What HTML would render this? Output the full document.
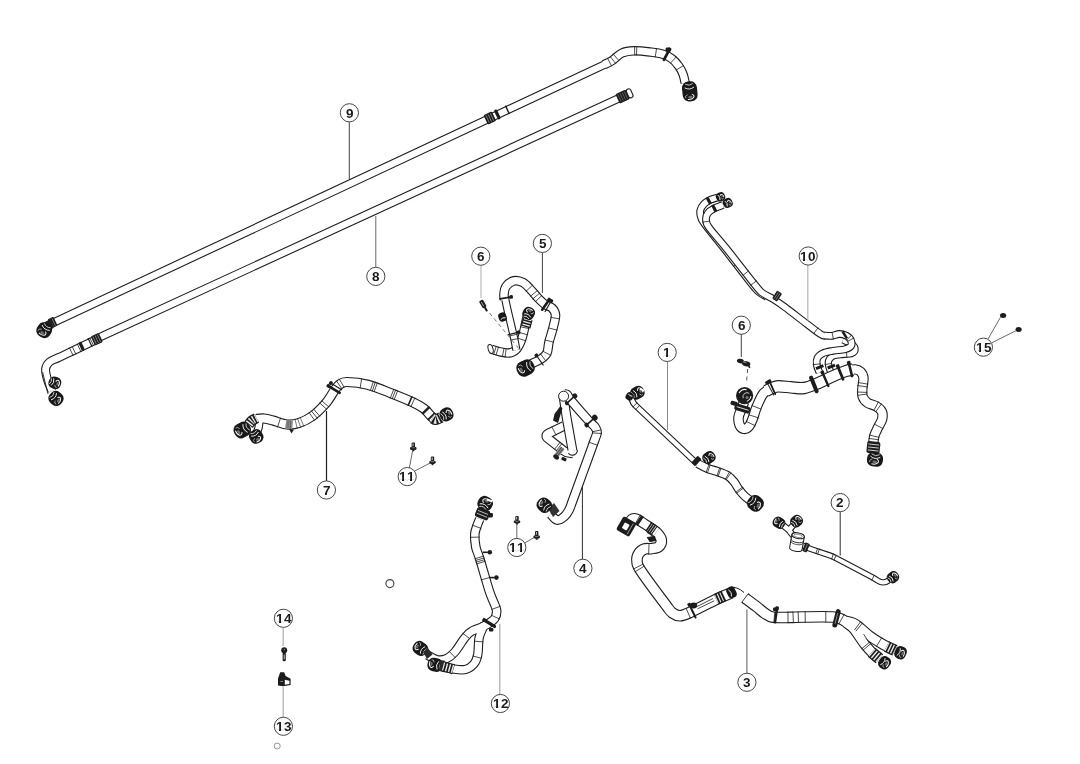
<!DOCTYPE html><html><head><meta charset="utf-8"><title>Hose diagram</title><style>html,body{margin:0;padding:0;background:#fff;font-family:"Liberation Sans",sans-serif}svg{display:block}svg{filter:grayscale(1)}</style></head><body><svg width="1080" height="764" viewBox="0 0 1080 764" font-family="Liberation Sans, sans-serif" font-weight="bold" fill="#1a1a1a"><rect width="1080" height="764" fill="#fff"/><path d="M55 321.8L606 63.8" fill="none" stroke="#1e1e1e" stroke-width="8.6" stroke-linecap="butt" stroke-linejoin="round"/><path d="M604 64.7C605.3 64 609 62.7 612 60.7C615 58.8 618.3 54.6 622 53C625.7 51.4 629.3 51 634 50.8C638.7 50.6 645.2 51.4 650 52C654.8 52.6 659.3 53.1 663 54.2C666.7 55.3 669.3 56.8 672 58.8C674.7 60.8 677.1 63.8 679 66.4C680.9 69 682.2 71.8 683.2 74.6C684.2 77.4 684.9 81.6 685.2 83" fill="none" stroke="#1e1e1e" stroke-width="9.4" stroke-linecap="butt" stroke-linejoin="round"/><path d="M55 321.8L606 63.8" fill="none" stroke="#fff" stroke-width="6.4" stroke-linecap="butt" stroke-linejoin="round"/><path d="M604 64.7C605.3 64 609 62.7 612 60.7C615 58.8 618.3 54.6 622 53C625.7 51.4 629.3 51 634 50.8C638.7 50.6 645.2 51.4 650 52C654.8 52.6 659.3 53.1 663 54.2C666.7 55.3 669.3 56.8 672 58.8C674.7 60.8 677.1 63.8 679 66.4C680.9 69 682.2 71.8 683.2 74.6C684.2 77.4 684.9 81.6 685.2 83" fill="none" stroke="#fff" stroke-width="7.2" stroke-linecap="butt" stroke-linejoin="round"/><path d="M611.7 66.3L607.4 57.9" stroke="#1e1e1e" stroke-width="0.8"/><path d="M615.9 63.7L610.1 56.3" stroke="#1e1e1e" stroke-width="0.8"/><path d="M619.2 60.9L612.9 53.8" stroke="#1e1e1e" stroke-width="0.8"/><path d="M634.7 55.5L634.6 46.1" stroke="#1e1e1e" stroke-width="0.8"/><path d="M636.5 55.5L636.8 46.1" stroke="#1e1e1e" stroke-width="0.8"/><path d="M655.2 57.4L656.6 48.1" stroke="#1e1e1e" stroke-width="0.8"/><path d="M670.2 63.4L676.6 56.5" stroke="#1e1e1e" stroke-width="0.8"/><path d="M675.9 70.2L683.9 65.3" stroke="#1e1e1e" stroke-width="0.8"/><g transform="translate(489.8 118) rotate(-25.1)"><rect x="-4.6" y="-5.2" width="9.2" height="10.4" rx="1.2" fill="#1c1c1c"/><path d="M-2.4 -4V4M0 -4V4M2.4 -4V4" stroke="#999" stroke-width="0.7"/></g><g transform="translate(497.4 114.4) rotate(-25.1)"><rect x="-1.6" y="-5.2" width="3.2" height="10.4" rx="1.4" fill="#1c1c1c"/></g><g transform="translate(507.4 109.8) rotate(-25.1)"><path d="M0 -4.6V4.6" stroke="#1c1c1c" stroke-width="1.4"/></g><g transform="translate(666.5 55) rotate(28)"><path d="M0 -5.5V5.5" stroke="#1c1c1c" stroke-width="2.8" stroke-linecap="round"/><rect x="-1.8" y="-8" width="3.6" height="3.4" rx="1" fill="#1c1c1c"/></g><rect x="665.6" y="47.4" width="5" height="4.6" rx="1.4" fill="#1c1c1c"/><g transform="translate(689.8 91.4) rotate(84)"><rect x="-10" y="-7.5" width="20" height="15" rx="6.3" fill="#181818"/><path d="M-4 -4.7Q-0.9 0 -4 4.7" fill="none" stroke="#fff" stroke-width="0.85"/><path d="M-7.6 -3.8Q-4.9 0 -7.6 3.8" fill="none" stroke="#e4e4e4" stroke-width="0.8"/><path d="M2.9 -1.7A2.8 5 0 0 1 7.8 2.8" fill="none" stroke="#f4f4f4" stroke-width="1.0"/><path d="M6.4 4.7A2.8 5 0 0 1 3.1 2.5" fill="none" stroke="#cfcfcf" stroke-width="0.7"/><ellipse cx="5.7" cy="0" rx="1.3" ry="2.2" fill="#6e6e6e"/></g><g transform="translate(52.4 322.6) rotate(-25.1)"><rect x="-3" y="-5" width="6.4" height="10" rx="1" fill="#1c1c1c"/><path d="M-1 -4V4M1.4 -4V4" stroke="#999" stroke-width="0.7"/></g><path d="M50.5 319L44 322.5L41 329L48.5 333L53.5 327.5Z" fill="#1c1c1c"/><g transform="translate(44.2 330.2) rotate(125)"><rect x="-7.5" y="-7.5" width="15" height="15" rx="6.3" fill="#181818"/><path d="M-3 -4.7Q0.1 0 -3 4.7" fill="none" stroke="#fff" stroke-width="0.85"/><path d="M-5.7 -3.8Q-3 0 -5.7 3.8" fill="none" stroke="#e4e4e4" stroke-width="0.8"/><path d="M0.4 -1.7A2.8 5 0 0 1 5.3 2.8" fill="none" stroke="#f4f4f4" stroke-width="1.0"/><path d="M3.9 4.7A2.8 5 0 0 1 0.6 2.5" fill="none" stroke="#cfcfcf" stroke-width="0.7"/><ellipse cx="3.2" cy="0" rx="1.3" ry="2.2" fill="#6e6e6e"/></g><path d="M100 337.2L629 93.6" fill="none" stroke="#1e1e1e" stroke-width="8.6" stroke-linecap="butt" stroke-linejoin="round"/><path d="M100 337.9C96 339.8 82.9 346.1 76 349.4C69.1 352.7 62.9 355.5 58.5 357.6C54.1 359.7 51.6 360.1 49.5 362C47.4 363.9 45.9 366 45.6 369C45.3 372 46.5 376.3 47.6 380C48.7 383.7 51.3 389.2 52 391" fill="none" stroke="#1e1e1e" stroke-width="9" stroke-linecap="butt" stroke-linejoin="round"/><path d="M100 337.2L629 93.6" fill="none" stroke="#fff" stroke-width="6.4" stroke-linecap="butt" stroke-linejoin="round"/><path d="M100 337.9C96 339.8 82.9 346.1 76 349.4C69.1 352.7 62.9 355.5 58.5 357.6C54.1 359.7 51.6 360.1 49.5 362C47.4 363.9 45.9 366 45.6 369C45.3 372 46.5 376.3 47.6 380C48.7 383.7 51.3 389.2 52 391" fill="none" stroke="#fff" stroke-width="6.8" stroke-linecap="butt" stroke-linejoin="round"/><path d="M89.8 337.8L93.7 345.9" stroke="#1e1e1e" stroke-width="0.8"/><path d="M77.2 343.8L81.1 352" stroke="#1e1e1e" stroke-width="0.8"/><path d="M72.1 346.3L75.9 354.4" stroke="#1e1e1e" stroke-width="0.8"/><path d="M69.3 347.6L73.2 355.7" stroke="#1e1e1e" stroke-width="0.8"/><path d="M42.6 372L48 394" stroke="#1e1e1e" stroke-width="0.9"/><g transform="translate(96.8 339.2) rotate(-24.7)"><rect x="-4.4" y="-5" width="8.8" height="10" rx="1.2" fill="#1c1c1c"/><path d="M-2.4 -4V4M0 -4V4M2.4 -4V4" stroke="#999" stroke-width="0.7"/></g><g transform="translate(90 342.4) rotate(-24.7)"><path d="M0 -4.8V4.8" stroke="#1c1c1c" stroke-width="1.2"/></g><g transform="translate(81.6 346.3) rotate(-24.7)"><rect x="-1.6" y="-4.6" width="3.2" height="9.2" rx="1.4" fill="#1c1c1c"/></g><g transform="translate(622.6 96.6) rotate(-24.7)"><rect x="-5.6" y="-5.2" width="11.2" height="10.4" rx="1.2" fill="#1c1c1c"/><path d="M-3.4 -4V4M-1 -4V4M1.4 -4V4M3.6 -4V4" stroke="#6a6a6a" stroke-width="0.7"/></g><g transform="translate(629.6 93.4) rotate(-24.7)"><rect x="-2.2" y="-4.6" width="4.6" height="9.2" rx="2" fill="#fff" stroke="#1c1c1c" stroke-width="1.1"/></g><g transform="translate(54.8 382.8) rotate(20)"><rect x="-6.2" y="-6" width="12.5" height="12" rx="5" fill="#181818"/><path d="M-2.5 -3.7Q0 0 -2.5 3.7" fill="none" stroke="#fff" stroke-width="0.85"/><path d="M-4.8 -3Q-2.6 0 -4.8 3" fill="none" stroke="#e4e4e4" stroke-width="0.8"/><path d="M0.5 -1.4A2.2 4 0 0 1 4.4 2.3" fill="none" stroke="#f4f4f4" stroke-width="1.0"/><path d="M3.3 3.7A2.2 4 0 0 1 0.7 2" fill="none" stroke="#cfcfcf" stroke-width="0.7"/><ellipse cx="2.8" cy="0" rx="1" ry="1.8" fill="#6e6e6e"/></g><g transform="translate(56 398.4) rotate(40)"><rect x="-7.2" y="-7" width="14.5" height="14" rx="5.9" fill="#181818"/><path d="M-2.9 -4.3Q0 0 -2.9 4.3" fill="none" stroke="#fff" stroke-width="0.85"/><path d="M-5.5 -3.5Q-3 0 -5.5 3.5" fill="none" stroke="#e4e4e4" stroke-width="0.8"/><path d="M0.6 -1.6A2.6 4.6 0 0 1 5.1 2.6" fill="none" stroke="#f4f4f4" stroke-width="1.0"/><path d="M3.9 4.3A2.6 4.6 0 0 1 0.8 2.3" fill="none" stroke="#cfcfcf" stroke-width="0.7"/><ellipse cx="3.2" cy="0" rx="1.2" ry="2.1" fill="#6e6e6e"/></g><path d="M256 419C257.3 418.9 261.2 418.2 264 418.5C266.8 418.8 269.2 419.5 273 420.5C276.8 421.5 282.7 424.1 287 424.5C291.3 424.9 294.8 424.4 299 423C303.2 421.6 308 419.3 312.5 416C317 412.7 322.2 407.4 326 403C329.8 398.6 332.7 392.6 335 389.5C337.3 386.4 338 385.4 340 384.2C342 382.9 342.3 381.9 347 382C351.7 382.1 360.7 382.9 368 384.8C375.3 386.7 383.3 390.2 391 393.2C398.7 396.2 408.5 400.2 414 402.8C419.5 405.4 421.3 406.6 424 408.6C426.7 410.6 428.4 413.3 430 415C431.6 416.7 433 418 433.6 418.6" fill="none" stroke="#1e1e1e" stroke-width="10.2" stroke-linecap="butt" stroke-linejoin="round"/><path d="M259.5 421C259.3 422.2 259 426 258.5 428C258 430 256.8 432.2 256.5 433" fill="none" stroke="#1e1e1e" stroke-width="8.4" stroke-linecap="butt" stroke-linejoin="round"/><path d="M256 419C257.3 418.9 261.2 418.2 264 418.5C266.8 418.8 269.2 419.5 273 420.5C276.8 421.5 282.7 424.1 287 424.5C291.3 424.9 294.8 424.4 299 423C303.2 421.6 308 419.3 312.5 416C317 412.7 322.2 407.4 326 403C329.8 398.6 332.7 392.6 335 389.5C337.3 386.4 338 385.4 340 384.2C342 382.9 342.3 381.9 347 382C351.7 382.1 360.7 382.9 368 384.8C375.3 386.7 383.3 390.2 391 393.2C398.7 396.2 408.5 400.2 414 402.8C419.5 405.4 421.3 406.6 424 408.6C426.7 410.6 428.4 413.3 430 415C431.6 416.7 433 418 433.6 418.6" fill="none" stroke="#fff" stroke-width="8" stroke-linecap="butt" stroke-linejoin="round"/><path d="M259.5 421C259.3 422.2 259 426 258.5 428C258 430 256.8 432.2 256.5 433" fill="none" stroke="#fff" stroke-width="6.2" stroke-linecap="butt" stroke-linejoin="round"/><path d="M277.4 427.3L280.7 417.6" stroke="#1e1e1e" stroke-width="0.8"/><path d="M297.4 428.8L294.9 418.9" stroke="#1e1e1e" stroke-width="0.6"/><path d="M300.8 427.8L297.4 418.1" stroke="#1e1e1e" stroke-width="0.6"/><path d="M303.9 426.6L300.1 417.2" stroke="#1e1e1e" stroke-width="0.6"/><path d="M314.8 420.6L308.9 412.3" stroke="#1e1e1e" stroke-width="0.8"/><path d="M317.5 418.5L311.1 410.6" stroke="#1e1e1e" stroke-width="0.8"/><path d="M320 416.4L313.3 408.8" stroke="#1e1e1e" stroke-width="0.8"/><path d="M327 409.6L319.5 402.7" stroke="#1e1e1e" stroke-width="0.8"/><path d="M329.2 407.2L321.4 400.5" stroke="#1e1e1e" stroke-width="0.8"/><path d="M342.1 389L336.2 380.6" stroke="#1e1e1e" stroke-width="0.8"/><path d="M344.3 387.4L339 378.7" stroke="#1e1e1e" stroke-width="0.8"/><path d="M360.1 388.4L361.7 378.3" stroke="#1e1e1e" stroke-width="0.8"/><path d="M370.3 390.8L373.5 381.1" stroke="#1e1e1e" stroke-width="0.8"/><path d="M372.2 391.4L375.5 381.7" stroke="#1e1e1e" stroke-width="0.8"/><path d="M374 392L377.5 382.4" stroke="#1e1e1e" stroke-width="0.8"/><path d="M390.2 398.4L393.9 388.9" stroke="#1e1e1e" stroke-width="0.8"/><path d="M392.1 399.1L395.8 389.6" stroke="#1e1e1e" stroke-width="0.8"/><path d="M394 399.9L397.8 390.4" stroke="#1e1e1e" stroke-width="0.8"/><path d="M408 405.7L412.1 396.4" stroke="#1e1e1e" stroke-width="1.6"/><path d="M410.8 406.9L415 397.7" stroke="#1e1e1e" stroke-width="0.8"/><path d="M422.3 413.9L429.6 406.8" stroke="#1e1e1e" stroke-width="2.4"/><path d="M427.8 420L435 412.8" stroke="#1e1e1e" stroke-width="1.8"/><path d="M286.4 419.7L293 420.8L292.2 429.4L285 428.2Z" fill="#8c8c8c"/><path d="M288 420V428.6M290.4 420.4V429" stroke="#444" stroke-width="0.6"/><path d="M289 429L291.5 433.5L294 429.5Z" fill="#1c1c1c"/><path d="M432.4 418C433 418.3 434.6 419.7 436 419.6C437.4 419.5 440.2 417.8 441 417.4" fill="none" stroke="#1c1c1c" stroke-width="11"/><path d="M432.4 418C433 418.3 434.6 419.7 436 419.6C437.4 419.5 440.2 417.8 441 417.4" fill="none" stroke="#e8e8e8" stroke-width="8.6" stroke-dasharray="1.3 1.5"/><g transform="translate(446.6 414.4) rotate(-28)"><rect x="-6.8" y="-6.8" width="13.5" height="13.5" rx="5.7" fill="#181818"/><path d="M-2.7 -4.2Q0.1 0 -2.7 4.2" fill="none" stroke="#fff" stroke-width="0.85"/><path d="M-5.1 -3.4Q-2.7 0 -5.1 3.4" fill="none" stroke="#e4e4e4" stroke-width="0.8"/><path d="M0.3 -1.5A2.5 4.5 0 0 1 4.7 2.6" fill="none" stroke="#f4f4f4" stroke-width="1.0"/><path d="M3.5 4.2A2.5 4.5 0 0 1 0.5 2.2" fill="none" stroke="#cfcfcf" stroke-width="0.7"/><ellipse cx="2.9" cy="0" rx="1.1" ry="2" fill="#6e6e6e"/></g><g transform="translate(334.4 389.6) rotate(-58)"><path d="M0 -6.2V6.2" stroke="#1c1c1c" stroke-width="2.6" stroke-linecap="round"/><rect x="-1.8" y="-8.8" width="3.6" height="3.4" rx="1" fill="#1c1c1c"/></g><g transform="translate(336.6 386.6) rotate(-58)"><path d="M0 -6V6" stroke="#1c1c1c" stroke-width="1.2" stroke-linecap="round"/><rect x="-1.8" y="-8.5" width="3.6" height="3.4" rx="1" fill="#1c1c1c"/></g><path d="M256.5 418C255.8 418.4 253.3 419.5 252 420.6C250.7 421.7 249.2 423.9 248.6 424.6" fill="none" stroke="#1c1c1c" stroke-width="10.6"/><path d="M256.5 418C255.8 418.4 253.3 419.5 252 420.6C250.7 421.7 249.2 423.9 248.6 424.6" fill="none" stroke="#e8e8e8" stroke-width="8.2" stroke-dasharray="1.3 1.4"/><g transform="translate(242.3 430) rotate(150)"><rect x="-8.5" y="-7.5" width="17" height="15" rx="6.3" fill="#181818"/><path d="M-3.4 -4.7Q-0.3 0 -3.4 4.7" fill="none" stroke="#fff" stroke-width="0.85"/><path d="M-6.5 -3.8Q-3.8 0 -6.5 3.8" fill="none" stroke="#e4e4e4" stroke-width="0.8"/><path d="M1.4 -1.7A2.8 5 0 0 1 6.3 2.8" fill="none" stroke="#f4f4f4" stroke-width="1.0"/><path d="M4.9 4.7A2.8 5 0 0 1 1.6 2.5" fill="none" stroke="#cfcfcf" stroke-width="0.7"/><ellipse cx="4.2" cy="0" rx="1.3" ry="2.2" fill="#6e6e6e"/></g><g transform="translate(256.2 436.5) rotate(60)"><rect x="-7" y="-6.8" width="14" height="13.5" rx="5.7" fill="#181818"/><path d="M-2.8 -4.2Q0 0 -2.8 4.2" fill="none" stroke="#fff" stroke-width="0.85"/><path d="M-5.3 -3.4Q-2.9 0 -5.3 3.4" fill="none" stroke="#e4e4e4" stroke-width="0.8"/><path d="M0.6 -1.5A2.5 4.5 0 0 1 5 2.6" fill="none" stroke="#f4f4f4" stroke-width="1.0"/><path d="M3.8 4.2A2.5 4.5 0 0 1 0.8 2.2" fill="none" stroke="#cfcfcf" stroke-width="0.7"/><ellipse cx="3.1" cy="0" rx="1.1" ry="2" fill="#6e6e6e"/></g><path d="M491.5 349.2C492.9 349.6 497.1 351.2 500 351.8C502.9 352.4 506.3 353.3 509 353C511.7 352.7 514.1 351.6 516 349.8C517.9 348.1 519.3 345.1 520.5 342.5C521.7 339.9 522.4 336.9 523.2 334C524 331.1 524.6 327.8 525.2 325C525.8 322.2 526.7 318.3 527 317" fill="none" stroke="#1e1e1e" stroke-width="9.4" stroke-linecap="butt" stroke-linejoin="round"/><path d="M491.5 349.2C492.9 349.6 497.1 351.2 500 351.8C502.9 352.4 506.3 353.3 509 353C511.7 352.7 514.1 351.6 516 349.8C517.9 348.1 519.3 345.1 520.5 342.5C521.7 339.9 522.4 336.9 523.2 334C524 331.1 524.6 327.8 525.2 325C525.8 322.2 526.7 318.3 527 317" fill="none" stroke="#fff" stroke-width="7.2" stroke-linecap="butt" stroke-linejoin="round"/><path d="M493.5 354.8L496.4 345.9" stroke="#1e1e1e" stroke-width="0.8"/><path d="M495.9 355.6L498.6 346.6" stroke="#1e1e1e" stroke-width="0.8"/><path d="M502.3 357.1L504.1 347.9" stroke="#1e1e1e" stroke-width="0.8"/><path d="M505 357.6L506.2 348.2" stroke="#1e1e1e" stroke-width="0.8"/><path d="M526.1 340.9L517.2 338" stroke="#1e1e1e" stroke-width="0.8"/><path d="M527.8 334.8L518.8 332.4" stroke="#1e1e1e" stroke-width="0.8"/><path d="M529.2 328.6L520 326.7" stroke="#1e1e1e" stroke-width="0.8"/><ellipse cx="490.6" cy="349" rx="2.4" ry="4.6" transform="rotate(-16 490.6 349)" fill="#fff" stroke="#1e1e1e" stroke-width="1"/><path d="M504.6 300C504.5 299.1 503.8 296.8 504 294.5C504.2 292.2 504.3 288.8 506 286.5C507.7 284.2 511.2 281.4 514 280.8C516.8 280.2 520.2 281.1 523 282.6C525.8 284.1 528.5 287.4 531 290C533.5 292.6 535.7 295.6 538 298C540.3 300.4 542.7 302.8 545 304.5C547.3 306.2 550.2 306.2 552 308C553.8 309.8 555.3 311.7 555.5 315C555.7 318.3 554.1 323.5 553 328C551.9 332.5 550 337.8 549 342C548 346.2 548.3 350.2 547 353C545.7 355.8 543.7 357.2 541 359C538.3 360.8 532.7 363.2 531 364" fill="none" stroke="#1e1e1e" stroke-width="9.6" stroke-linecap="butt" stroke-linejoin="round"/><path d="M504.8 297L506.7 306.1 Q508 312 509.4 317.8L512.8 332.2 Q514.2 338 515.3 343.9L516.4 350" fill="none" stroke="#1e1e1e" stroke-width="8.2" stroke-linecap="butt" stroke-linejoin="round"/><path d="M504.6 300C504.5 299.1 503.8 296.8 504 294.5C504.2 292.2 504.3 288.8 506 286.5C507.7 284.2 511.2 281.4 514 280.8C516.8 280.2 520.2 281.1 523 282.6C525.8 284.1 528.5 287.4 531 290C533.5 292.6 535.7 295.6 538 298C540.3 300.4 542.7 302.8 545 304.5C547.3 306.2 550.2 306.2 552 308C553.8 309.8 555.3 311.7 555.5 315C555.7 318.3 554.1 323.5 553 328C551.9 332.5 550 337.8 549 342C548 346.2 548.3 350.2 547 353C545.7 355.8 543.7 357.2 541 359C538.3 360.8 532.7 363.2 531 364" fill="none" stroke="#fff" stroke-width="7.4" stroke-linecap="butt" stroke-linejoin="round"/><path d="M504.8 297L506.7 306.1 Q508 312 509.4 317.8L512.8 332.2 Q514.2 338 515.3 343.9L516.4 350" fill="none" stroke="#fff" stroke-width="6" stroke-linecap="butt" stroke-linejoin="round"/><path d="M525.8 291.5L532.8 284.9" stroke="#1e1e1e" stroke-width="0.8"/><path d="M530.3 296.4L537.7 290.3" stroke="#1e1e1e" stroke-width="0.8"/><path d="M532.6 299.1L539.9 292.9" stroke="#1e1e1e" stroke-width="0.8"/><path d="M535.1 301.9L542 295.3" stroke="#1e1e1e" stroke-width="0.8"/><path d="M543.6 309.3L548.1 300.8" stroke="#1e1e1e" stroke-width="0.8"/><path d="M550.5 317.4L560 318.9" stroke="#1e1e1e" stroke-width="0.8"/><path d="M548.1 327.8L557.4 330.2" stroke="#1e1e1e" stroke-width="0.8"/><path d="M544.6 339.9L553.9 342.2" stroke="#1e1e1e" stroke-width="0.8"/><path d="M542.6 351.1L551.1 355.5" stroke="#1e1e1e" stroke-width="0.8"/><path d="M540.3 353.6L546.1 361.3" stroke="#1e1e1e" stroke-width="0.8"/><path d="M509.5 336L517.5 334.1" stroke="#1e1e1e" stroke-width="0.8"/><path d="M510.4 340.1L518.5 338.6" stroke="#1e1e1e" stroke-width="0.8"/><g transform="translate(525.5 368) rotate(155)"><rect x="-9" y="-7.8" width="18" height="15.5" rx="6.5" fill="#181818"/><path d="M-3.6 -4.8Q-0.3 0 -3.6 4.8" fill="none" stroke="#fff" stroke-width="0.85"/><path d="M-6.8 -3.9Q-4 0 -6.8 3.9" fill="none" stroke="#e4e4e4" stroke-width="0.8"/><path d="M1.7 -1.7A2.9 5.1 0 0 1 6.7 2.9" fill="none" stroke="#f4f4f4" stroke-width="1.0"/><path d="M5.3 4.8A2.9 5.1 0 0 1 1.9 2.6" fill="none" stroke="#cfcfcf" stroke-width="0.7"/><ellipse cx="4.6" cy="0" rx="1.3" ry="2.3" fill="#6e6e6e"/></g><path d="M527.8 319C527.4 320.3 526 325.7 525.6 327" fill="none" stroke="#1c1c1c" stroke-width="10"/><path d="M527.8 319C527.4 320.3 526 325.7 525.6 327" fill="none" stroke="#e8e8e8" stroke-width="7.6" stroke-dasharray="1.3 1.5"/><g transform="translate(528.6 313.4) rotate(-62)"><rect x="-6.2" y="-6" width="12.5" height="12" rx="5" fill="#181818"/><path d="M-2.5 -3.7Q0 0 -2.5 3.7" fill="none" stroke="#fff" stroke-width="0.85"/><path d="M-4.8 -3Q-2.6 0 -4.8 3" fill="none" stroke="#e4e4e4" stroke-width="0.8"/><path d="M0.5 -1.4A2.2 4 0 0 1 4.4 2.3" fill="none" stroke="#f4f4f4" stroke-width="1.0"/><path d="M3.3 3.7A2.2 4 0 0 1 0.7 2" fill="none" stroke="#cfcfcf" stroke-width="0.7"/><ellipse cx="2.8" cy="0" rx="1" ry="1.8" fill="#6e6e6e"/></g><g transform="translate(502.5 317) rotate(-110)"><rect x="-4.5" y="-4" width="9" height="8" rx="3.4" fill="#181818"/><path d="M-1.8 -2.5Q-0.1 0 -1.8 2.5" fill="none" stroke="#fff" stroke-width="0.85"/></g><g transform="translate(545.5 305) rotate(35)"><path d="M0 -5.8V5.8" stroke="#1c1c1c" stroke-width="2.6" stroke-linecap="round"/><rect x="-1.8" y="-8.2" width="3.6" height="3.4" rx="1" fill="#1c1c1c"/></g><g transform="translate(548 306.5) rotate(30)"><path d="M0 -5.8V5.8" stroke="#1c1c1c" stroke-width="1.2" stroke-linecap="round"/><rect x="-1.8" y="-8.2" width="3.6" height="3.4" rx="1" fill="#1c1c1c"/></g><g transform="translate(505.2 298) rotate(80)"><path d="M0 -5.3V5.3" stroke="#1c1c1c" stroke-width="1.8" stroke-linecap="round"/><rect x="-1.8" y="-7.8" width="3.6" height="3.4" rx="1" fill="#1c1c1c"/></g><g transform="translate(513.2 333.5) rotate(77)"><path d="M0 -4.8V4.8" stroke="#1c1c1c" stroke-width="1.4" stroke-linecap="round"/><rect x="-1.8" y="-7.3" width="3.6" height="3.4" rx="1" fill="#1c1c1c"/></g><g transform="translate(540 360.5) rotate(-35)"><path d="M0 -5.5V5.5" stroke="#1c1c1c" stroke-width="1.2" stroke-linecap="round"/><rect x="-1.8" y="-8" width="3.6" height="3.4" rx="1" fill="#1c1c1c"/></g><g transform="translate(483.6 305.2) rotate(-30)"><rect x="-2.2" y="-5.5" width="4.4" height="8" rx="1" fill="#1c1c1c"/><path d="M-0.4 -4V1" stroke="#bbb" stroke-width="0.8"/><rect x="-1" y="2" width="2" height="5" fill="#1c1c1c"/></g><path d="M489.5 313L520 350" stroke="#555" stroke-width="0.8" stroke-dasharray="4 3"/><path d="M564 425.8L548.5 433.5 Q544.4 435.6 548 438.4L563.2 450.4 Q566 452.6 569.5 453L573 453.4" fill="none" stroke="#1e1e1e" stroke-width="9.8" stroke-linecap="butt" stroke-linejoin="round"/><path d="M564 425.8L548.5 433.5 Q544.4 435.6 548 438.4L563.2 450.4 Q566 452.6 569.5 453L573 453.4" fill="none" stroke="#fff" stroke-width="7.6" stroke-linecap="butt" stroke-linejoin="round"/><path d="M551.7 426.5L556.1 435.2" stroke="#1e1e1e" stroke-width="0.8"/><path d="M554.3 449.6L560.4 441.9" stroke="#1e1e1e" stroke-width="0.8"/><path d="M556.1 451L562.1 443.3" stroke="#1e1e1e" stroke-width="0.8"/><path d="M563.6 397L566.1 414.1 Q567 420 568.1 425.9L572.6 451" fill="none" stroke="#1e1e1e" stroke-width="9.8" stroke-linecap="butt" stroke-linejoin="round"/><path d="M563.6 397L566.1 414.1 Q567 420 568.1 425.9L572.6 451" fill="none" stroke="#fff" stroke-width="7.6" stroke-linecap="butt" stroke-linejoin="round"/><path d="M567.9 451.6A4.9 5.4 0 0 0 577.4 450" fill="#fff" stroke="#1e1e1e" stroke-width="1.1"/><path d="M566.4 452.4L569.5 451.3" stroke="#fff" stroke-width="2.4"/><path d="M564 394.2C564.5 394.3 565.8 393.6 567 394.6C568.2 395.7 567.3 396.1 571 400.5C574.7 404.9 585 416.6 589 421C593 425.4 593.7 425.1 595 427C596.3 428.9 597.1 430.3 597 432.5C596.9 434.7 596.9 433.6 594.6 440C592.4 446.4 587.2 460.5 583.5 470.7C579.8 480.9 574.9 494.4 572.5 501C570.1 507.6 570.3 507.4 569 510C567.7 512.5 566.5 514.6 564.5 516.3C562.5 518 559.3 520.4 557 520C554.7 519.6 551.6 515 550.5 514" fill="none" stroke="#1e1e1e" stroke-width="9.8" stroke-linecap="butt" stroke-linejoin="round"/><path d="M564 394.2C564.5 394.3 565.8 393.6 567 394.6C568.2 395.7 567.3 396.1 571 400.5C574.7 404.9 585 416.6 589 421C593 425.4 593.7 425.1 595 427C596.3 428.9 597.1 430.3 597 432.5C596.9 434.7 596.9 433.6 594.6 440C592.4 446.4 587.2 460.5 583.5 470.7C579.8 480.9 574.9 494.4 572.5 501C570.1 507.6 570.3 507.4 569 510C567.7 512.5 566.5 514.6 564.5 516.3C562.5 518 559.3 520.4 557 520C554.7 519.6 551.6 515 550.5 514" fill="none" stroke="#fff" stroke-width="7.6" stroke-linecap="butt" stroke-linejoin="round"/><path d="M592.1 431.8L601.7 429.8" stroke="#1e1e1e" stroke-width="0.8"/><path d="M592.1 432.9L601.9 433.5" stroke="#1e1e1e" stroke-width="0.8"/><path d="M588.7 442.1L597.9 445.4" stroke="#1e1e1e" stroke-width="0.8"/><circle cx="563.6" cy="396.2" r="5" fill="#fff" stroke="#1e1e1e" stroke-width="1"/><path d="M548 508.5L554 503L559.5 511L553 517Z" fill="#333"/><g transform="translate(544.3 505.2) rotate(222)"><rect x="-7.5" y="-7" width="15" height="14" rx="5.9" fill="#181818"/><path d="M-3 -4.3Q-0.1 0 -3 4.3" fill="none" stroke="#fff" stroke-width="0.85"/><path d="M-5.7 -3.5Q-3.2 0 -5.7 3.5" fill="none" stroke="#e4e4e4" stroke-width="0.8"/><path d="M0.8 -1.6A2.6 4.6 0 0 1 5.4 2.6" fill="none" stroke="#f4f4f4" stroke-width="1.0"/><path d="M4.2 4.3A2.6 4.6 0 0 1 1 2.3" fill="none" stroke="#cfcfcf" stroke-width="0.7"/><ellipse cx="3.5" cy="0" rx="1.2" ry="2.1" fill="#6e6e6e"/></g><g transform="translate(570.8 399.6) rotate(48)"><path d="M0 -5.2V5.2" stroke="#1c1c1c" stroke-width="1.5"/><ellipse cx="0" cy="-5.6" rx="2.6" ry="2.3" fill="#1c1c1c"/><ellipse cx="0" cy="5.4" rx="2.1" ry="1.8" fill="#1c1c1c"/></g><g transform="translate(590.6 421.4) rotate(48)"><path d="M0 -5.2V5.2" stroke="#1c1c1c" stroke-width="1.5"/><ellipse cx="0" cy="-5.6" rx="3" ry="2.7" fill="#1c1c1c"/><ellipse cx="0" cy="5.4" rx="2.4" ry="2.1" fill="#1c1c1c"/></g><g transform="translate(559.6 451.6) rotate(38)"><rect x="-2.4" y="-4.8" width="4.8" height="9.6" fill="#8a8a8a"/><path d="M-1 -4.8V4.8M1 -4.8V4.8" stroke="#333" stroke-width="0.7"/><ellipse cx="0.6" cy="6.4" rx="3.2" ry="2.2" fill="#1c1c1c"/></g><path d="M560 406.5L562.5 408L558 423L553 420.5L554.5 414Z" fill="#1c1c1c"/><rect x="561.5" y="457.6" width="5" height="3.2" rx="1" fill="#1c1c1c" transform="rotate(25 564 459)"/><path d="M479.8 519C479.4 520 478.1 522.5 477.3 525C476.5 527.5 475.1 530.3 474.8 534C474.6 537.7 475 542.8 475.8 547C476.6 551.2 477.6 551.7 479.8 559C482.1 566.3 486.8 583.3 489.3 591C491.8 598.7 493.7 601.6 494.9 605C496.1 608.4 496.7 609.2 496.7 611.5C496.7 613.8 496 616.5 494.7 618.5C493.4 620.5 490.9 621.9 488.8 623.3C486.7 624.7 483.4 626.4 482.3 627" fill="none" stroke="#1e1e1e" stroke-width="9.6" stroke-linecap="butt" stroke-linejoin="round"/><path d="M485.3 626C483 626.9 474.8 629.4 471.3 631.5C467.8 633.6 467.1 635.1 464.3 638.5C461.6 641.9 457.7 648.7 454.8 652C451.9 655.3 449.7 657.2 446.8 658.5C443.9 659.8 440.6 660.4 437.3 659.8C434.1 659.2 429 655.8 427.3 655" fill="none" stroke="#1e1e1e" stroke-width="9.4" stroke-linecap="butt" stroke-linejoin="round"/><path d="M482.8 628C482.2 629.7 480 633.5 479.1 638C478.2 642.5 478.6 650.7 477.7 655C476.8 659.3 476 661.6 473.9 664C471.8 666.4 468.7 668.7 465.3 669.5C461.9 670.3 457.1 669.5 453.3 669C449.5 668.5 444.1 666.9 442.3 666.5" fill="none" stroke="#1e1e1e" stroke-width="9.4" stroke-linecap="butt" stroke-linejoin="round"/><path d="M479.8 519C479.4 520 478.1 522.5 477.3 525C476.5 527.5 475.1 530.3 474.8 534C474.6 537.7 475 542.8 475.8 547C476.6 551.2 477.6 551.7 479.8 559C482.1 566.3 486.8 583.3 489.3 591C491.8 598.7 493.7 601.6 494.9 605C496.1 608.4 496.7 609.2 496.7 611.5C496.7 613.8 496 616.5 494.7 618.5C493.4 620.5 490.9 621.9 488.8 623.3C486.7 624.7 483.4 626.4 482.3 627" fill="none" stroke="#fff" stroke-width="7.4" stroke-linecap="butt" stroke-linejoin="round"/><path d="M485.3 626C483 626.9 474.8 629.4 471.3 631.5C467.8 633.6 467.1 635.1 464.3 638.5C461.6 641.9 457.7 648.7 454.8 652C451.9 655.3 449.7 657.2 446.8 658.5C443.9 659.8 440.6 660.4 437.3 659.8C434.1 659.2 429 655.8 427.3 655" fill="none" stroke="#fff" stroke-width="7.2" stroke-linecap="butt" stroke-linejoin="round"/><path d="M482.8 628C482.2 629.7 480 633.5 479.1 638C478.2 642.5 478.6 650.7 477.7 655C476.8 659.3 476 661.6 473.9 664C471.8 666.4 468.7 668.7 465.3 669.5C461.9 670.3 457.1 669.5 453.3 669C449.5 668.5 444.1 666.9 442.3 666.5" fill="none" stroke="#fff" stroke-width="7.2" stroke-linecap="butt" stroke-linejoin="round"/><path d="M472.2 525.1L481.2 528.4" stroke="#1e1e1e" stroke-width="0.8"/><path d="M469.9 537.3L479.5 537.1" stroke="#1e1e1e" stroke-width="0.8"/><path d="M474.7 558.9L483.9 556" stroke="#1e1e1e" stroke-width="0.8"/><path d="M475.3 560.6L484.4 557.8" stroke="#1e1e1e" stroke-width="0.8"/><path d="M475.8 562.3L485 559.5" stroke="#1e1e1e" stroke-width="0.8"/><path d="M476.3 564L485.5 561.2" stroke="#1e1e1e" stroke-width="0.8"/><path d="M480.9 580L490.2 577.3" stroke="#1e1e1e" stroke-width="0.8"/><path d="M491.5 609.5L500.5 606.2" stroke="#1e1e1e" stroke-width="0.8"/><path d="M491.1 615.1L499.8 619.1" stroke="#1e1e1e" stroke-width="0.8"/><path d="M462.6 633.1L470 638.9" stroke="#1e1e1e" stroke-width="0.8"/><path d="M449.1 651.3L455.6 658" stroke="#1e1e1e" stroke-width="0.8"/><path d="M474 641.2L483.4 641.9" stroke="#1e1e1e" stroke-width="0.8"/><path d="M472.7 656L481.8 658.3" stroke="#1e1e1e" stroke-width="0.8"/><g transform="translate(485.2 503.5) rotate(-62)"><rect x="-7" y="-7.5" width="14" height="15" rx="5.9" fill="#181818"/><path d="M-2.8 -4.7Q0.3 0 -2.8 4.7" fill="none" stroke="#fff" stroke-width="0.85"/><path d="M-5.3 -3.8Q-2.6 0 -5.3 3.8" fill="none" stroke="#e4e4e4" stroke-width="0.8"/><path d="M-0.1 -1.7A2.8 5 0 0 1 4.8 2.8" fill="none" stroke="#f4f4f4" stroke-width="1.0"/><path d="M3.4 4.7A2.8 5 0 0 1 0.1 2.5" fill="none" stroke="#cfcfcf" stroke-width="0.7"/><ellipse cx="2.7" cy="0" rx="1.3" ry="2.2" fill="#6e6e6e"/></g><g transform="translate(482.6 513.8) rotate(-68)"><rect x="-5" y="-7" width="10" height="14" rx="2.5" fill="#1c1c1c"/><path d="M-1.6 -5.5V5.5M1.4 -5.5V5.5" stroke="#ccc" stroke-width="0.8"/></g><rect x="488" y="513" width="5" height="4.4" rx="1.4" fill="#1c1c1c"/><path d="M487 499.5l5.5 2" stroke="#fff" stroke-width="2.2"/><g transform="translate(420.3 648.4) rotate(215)"><rect x="-7.5" y="-6.8" width="15" height="13.5" rx="5.7" fill="#181818"/><path d="M-3 -4.2Q-0.2 0 -3 4.2" fill="none" stroke="#fff" stroke-width="0.85"/><path d="M-5.7 -3.4Q-3.3 0 -5.7 3.4" fill="none" stroke="#e4e4e4" stroke-width="0.8"/><path d="M1.1 -1.5A2.5 4.5 0 0 1 5.5 2.6" fill="none" stroke="#f4f4f4" stroke-width="1.0"/><path d="M4.3 4.2A2.5 4.5 0 0 1 1.3 2.2" fill="none" stroke="#cfcfcf" stroke-width="0.7"/><ellipse cx="3.6" cy="0" rx="1.1" ry="2" fill="#6e6e6e"/></g><path d="M423 652L428 648L432.5 654.5L427 659Z" fill="#2a2a2a"/><g transform="translate(435 664.8) rotate(192)"><rect x="-7.5" y="-6.8" width="15" height="13.5" rx="5.7" fill="#181818"/><path d="M-3 -4.2Q-0.2 0 -3 4.2" fill="none" stroke="#fff" stroke-width="0.85"/><path d="M-5.7 -3.4Q-3.3 0 -5.7 3.4" fill="none" stroke="#e4e4e4" stroke-width="0.8"/><path d="M1.1 -1.5A2.5 4.5 0 0 1 5.5 2.6" fill="none" stroke="#f4f4f4" stroke-width="1.0"/><path d="M4.3 4.2A2.5 4.5 0 0 1 1.3 2.2" fill="none" stroke="#cfcfcf" stroke-width="0.7"/><ellipse cx="3.6" cy="0" rx="1.1" ry="2" fill="#6e6e6e"/></g><path d="M440 660L445 660.7L444 672L439 671Z" fill="#2a2a2a"/><g transform="translate(489.6 623.4) rotate(-58)"><path d="M0 -5.8V5.8" stroke="#1c1c1c" stroke-width="3.2" stroke-linecap="round"/><rect x="-1.8" y="-8.2" width="3.6" height="3.4" rx="1" fill="#1c1c1c"/></g><rect x="489" y="628" width="4.4" height="3.6" rx="1" fill="#1c1c1c"/><path d="M443 666.4C444.8 666.9 451.8 668.7 453.5 669.2" fill="none" stroke="#1c1c1c" stroke-width="10.4"/><path d="M443 666.4C444.8 666.9 451.8 668.7 453.5 669.2" fill="none" stroke="#e8e8e8" stroke-width="8" stroke-dasharray="1.4 1.6"/><path d="M482.8 552.3h5" stroke="#1c1c1c" stroke-width="1.6"/><circle cx="489.8" cy="552.3" r="2.3" fill="#1c1c1c"/><path d="M489.4 577.6h5" stroke="#1c1c1c" stroke-width="1.6"/><circle cx="496.4" cy="577.6" r="2.3" fill="#1c1c1c"/><g transform="translate(284.2 650.3)"><circle cx="0" cy="0" r="3" fill="#1c1c1c"/><rect x="-1.6" y="2" width="3.2" height="9" rx="1.4" fill="#1c1c1c"/><path d="M0 4.4V9" stroke="#ddd" stroke-width="0.9"/><circle cx="0.2" cy="-0.8" r="0.7" fill="#888"/></g><g transform="translate(284 681)"><path d="M-6 4.5V-2.5L-3.8 -8.8H0.2L1.6 -5L6.6 -2.2V4L-1 5.2Z" fill="#1c1c1c"/><path d="M0.8 -1.2L5.4 -0.2V3L0.8 3.8Z" fill="#fff"/><path d="M-3.5 0.5h2.4" stroke="#aaa" stroke-width="0.8"/></g><path d="M631.6 398L632.3 400.5 Q633 403 635.2 405.1L697 463.6" fill="none" stroke="#1e1e1e" stroke-width="6.5" stroke-linecap="butt" stroke-linejoin="round"/><path d="M697.5 463.4C699.1 464.2 703.8 466.9 707 468.2C710.2 469.5 713.6 470.2 717 471.4C720.4 472.6 724.7 473.9 727.5 475.6C730.3 477.3 732.1 479.5 734 481.8C735.9 484.1 737.2 487.2 739 489.6C740.8 492 742.8 494.2 744.6 496C746.4 497.8 749.1 499.5 750 500.2" fill="none" stroke="#1e1e1e" stroke-width="9.2" stroke-linecap="butt" stroke-linejoin="round"/><path d="M631.6 398L632.3 400.5 Q633 403 635.2 405.1L697 463.6" fill="none" stroke="#fff" stroke-width="4.3" stroke-linecap="butt" stroke-linejoin="round"/><path d="M697.5 463.4C699.1 464.2 703.8 466.9 707 468.2C710.2 469.5 713.6 470.2 717 471.4C720.4 472.6 724.7 473.9 727.5 475.6C730.3 477.3 732.1 479.5 734 481.8C735.9 484.1 737.2 487.2 739 489.6C740.8 492 742.8 494.2 744.6 496C746.4 497.8 749.1 499.5 750 500.2" fill="none" stroke="#fff" stroke-width="7" stroke-linecap="butt" stroke-linejoin="round"/><path d="M632.8 407.2L637.2 402.5" stroke="#1e1e1e" stroke-width="0.8"/><path d="M635.5 409.8L639.9 405.1" stroke="#1e1e1e" stroke-width="0.8"/><path d="M705.9 472.7L709.2 464.1" stroke="#1e1e1e" stroke-width="0.8"/><path d="M707.3 473.2L710.3 464.5" stroke="#1e1e1e" stroke-width="0.8"/><path d="M716.8 476.2L719.8 467.5" stroke="#1e1e1e" stroke-width="0.8"/><path d="M718 476.6L721 467.9" stroke="#1e1e1e" stroke-width="0.8"/><path d="M725.1 479.6L729.7 471.6" stroke="#1e1e1e" stroke-width="0.8"/><path d="M725.9 480L731.2 472.5" stroke="#1e1e1e" stroke-width="0.8"/><path d="M735.4 492.5L742.8 486.9" stroke="#1e1e1e" stroke-width="0.8"/><path d="M736.3 493.6L743.5 487.9" stroke="#1e1e1e" stroke-width="0.8"/><g transform="translate(637.4 392.6) rotate(-28)"><rect x="-7" y="-6.2" width="14" height="12.5" rx="5.2" fill="#181818"/><path d="M-2.8 -3.9Q-0.2 0 -2.8 3.9" fill="none" stroke="#fff" stroke-width="0.85"/><path d="M-5.3 -3.1Q-3.1 0 -5.3 3.1" fill="none" stroke="#e4e4e4" stroke-width="0.8"/><path d="M1 -1.4A2.3 4.1 0 0 1 5.1 2.4" fill="none" stroke="#f4f4f4" stroke-width="1.0"/><path d="M4 3.9A2.3 4.1 0 0 1 1.2 2.1" fill="none" stroke="#cfcfcf" stroke-width="0.7"/><ellipse cx="3.4" cy="0" rx="1.1" ry="1.9" fill="#6e6e6e"/></g><path d="M640 388.6l4 2.2" stroke="#fff" stroke-width="2"/><g transform="translate(629.6 396.4) rotate(120)"><rect x="-4" y="-3.8" width="8" height="7.5" rx="3.1" fill="#181818"/><path d="M-1.6 -2.3Q-0 0 -1.6 2.3" fill="none" stroke="#fff" stroke-width="0.85"/></g><g transform="translate(709 457.6) rotate(-35)"><rect x="-6.5" y="-5.8" width="13" height="11.5" rx="4.8" fill="#181818"/><path d="M-2.6 -3.6Q-0.2 0 -2.6 3.6" fill="none" stroke="#fff" stroke-width="0.85"/><path d="M-4.9 -2.9Q-2.9 0 -4.9 2.9" fill="none" stroke="#e4e4e4" stroke-width="0.8"/><path d="M1 -1.3A2.1 3.8 0 0 1 4.7 2.2" fill="none" stroke="#f4f4f4" stroke-width="1.0"/><path d="M3.7 3.6A2.1 3.8 0 0 1 1.1 1.9" fill="none" stroke="#cfcfcf" stroke-width="0.7"/><ellipse cx="3.2" cy="0" rx="1" ry="1.7" fill="#6e6e6e"/></g><g transform="translate(696.4 460.8) rotate(42)"><rect x="-2.6" y="-4.6" width="5.4" height="9.2" rx="1" fill="#1c1c1c"/></g><g transform="translate(755.4 503.4) rotate(38)"><rect x="-8" y="-7.8" width="16" height="15.5" rx="6.5" fill="#181818"/><path d="M-3.2 -4.8Q0.1 0 -3.2 4.8" fill="none" stroke="#fff" stroke-width="0.85"/><path d="M-6.1 -3.9Q-3.3 0 -6.1 3.9" fill="none" stroke="#e4e4e4" stroke-width="0.8"/><path d="M0.7 -1.7A2.9 5.1 0 0 1 5.7 2.9" fill="none" stroke="#f4f4f4" stroke-width="1.0"/><path d="M4.3 4.8A2.9 5.1 0 0 1 0.9 2.6" fill="none" stroke="#cfcfcf" stroke-width="0.7"/><ellipse cx="3.6" cy="0" rx="1.3" ry="2.3" fill="#6e6e6e"/></g><path d="M717.5 197.5C716.3 197.9 712.8 198.7 710.5 199.8C708.2 200.9 705.7 202.2 704 204C702.3 205.8 700.7 208.1 700.3 210.5C699.9 212.9 700.3 215.8 701.4 218.5C702.5 221.2 702.2 220.8 707 227C711.8 233.2 722.4 246.3 730 256C737.6 265.7 747.7 279 752.5 285C757.3 291 756.6 290 759 292C761.4 294 765.7 296.2 767 297" fill="none" stroke="#1e1e1e" stroke-width="7.8" stroke-linecap="butt" stroke-linejoin="round"/><path d="M717.5 197.5C716.3 197.9 712.8 198.7 710.5 199.8C708.2 200.9 705.7 202.2 704 204C702.3 205.8 700.7 208.1 700.3 210.5C699.9 212.9 700.3 215.8 701.4 218.5C702.5 221.2 702.2 220.8 707 227C711.8 233.2 722.4 246.3 730 256C737.6 265.7 747.7 279 752.5 285C757.3 291 756.6 290 759 292C761.4 294 765.7 296.2 767 297" fill="none" stroke="#fff" stroke-width="5.6" stroke-linecap="butt" stroke-linejoin="round"/><path d="M706.9 197.3L710.6 204.1" stroke="#1e1e1e" stroke-width="3.2"/><path d="M733.2 266.4L739.4 261.7" stroke="#1e1e1e" stroke-width="0.8"/><path d="M723 205C721.5 205.6 716.5 207.2 714 208.5C711.5 209.8 709.3 211.2 708 213C706.7 214.8 705.8 217.1 706 219.5C706.2 221.9 705.6 222.7 709 227.5C712.4 232.3 718.6 238.8 726.4 248.5C734.1 258.2 749.5 278.1 755.5 285.5C761.5 292.9 759.6 290.8 762.5 293C765.4 295.2 769.2 296.6 773 299C776.8 301.4 780 303.5 785 307.2C790 310.9 797.1 316.5 803 321C808.9 325.5 816.5 331.5 820.3 334C824.1 336.5 825 335.7 826 336" fill="none" stroke="#1e1e1e" stroke-width="7.8" stroke-linecap="butt" stroke-linejoin="round"/><path d="M723 205C721.5 205.6 716.5 207.2 714 208.5C711.5 209.8 709.3 211.2 708 213C706.7 214.8 705.8 217.1 706 219.5C706.2 221.9 705.6 222.7 709 227.5C712.4 232.3 718.6 238.8 726.4 248.5C734.1 258.2 749.5 278.1 755.5 285.5C761.5 292.9 759.6 290.8 762.5 293C765.4 295.2 769.2 296.6 773 299C776.8 301.4 780 303.5 785 307.2C790 310.9 797.1 316.5 803 321C808.9 325.5 816.5 331.5 820.3 334C824.1 336.5 825 335.7 826 336" fill="none" stroke="#fff" stroke-width="5.6" stroke-linecap="butt" stroke-linejoin="round"/><path d="M712.5 204.9L716 211.8" stroke="#1e1e1e" stroke-width="3.2"/><path d="M702.2 222.2L710 221.1" stroke="#1e1e1e" stroke-width="0.8"/><path d="M742.7 275.5L748.8 270.7" stroke="#1e1e1e" stroke-width="0.8"/><path d="M750.5 285.5L756.6 280.7" stroke="#1e1e1e" stroke-width="0.8"/><path d="M813.5 333.9L818.1 327.7" stroke="#1e1e1e" stroke-width="0.8"/><g transform="translate(720.5 196.8) rotate(-24)"><rect x="-4.5" y="-4.5" width="9" height="9" rx="3.8" fill="#181818"/><path d="M-1.8 -2.8Q0.1 0 -1.8 2.8" fill="none" stroke="#fff" stroke-width="0.85"/><path d="M0.1 -1A1.7 3 0 0 1 3 1.7" fill="none" stroke="#f4f4f4" stroke-width="1.0"/><path d="M2.2 2.8A1.7 3 0 0 1 0.2 1.5" fill="none" stroke="#cfcfcf" stroke-width="0.7"/><ellipse cx="1.9" cy="0" rx="0.8" ry="1.3" fill="#6e6e6e"/></g><g transform="translate(727.8 203) rotate(-24)"><rect x="-4.8" y="-4.8" width="9.5" height="9.5" rx="4" fill="#181818"/><path d="M-1.9 -2.9Q0.1 0 -1.9 2.9" fill="none" stroke="#fff" stroke-width="0.85"/><path d="M0.1 -1.1A1.8 3.1 0 0 1 3.2 1.8" fill="none" stroke="#f4f4f4" stroke-width="1.0"/><path d="M2.4 2.9A1.8 3.1 0 0 1 0.3 1.6" fill="none" stroke="#cfcfcf" stroke-width="0.7"/><ellipse cx="2" cy="0" rx="0.8" ry="1.4" fill="#6e6e6e"/></g><g transform="translate(777 296.2) rotate(33)"><rect x="-3" y="-5" width="6" height="9.6" rx="1.4" fill="#1c1c1c"/><path d="M-1 -4V3.5M1 -4V3.5" stroke="#aaa" stroke-width="0.6"/></g><path d="M843 340C844.3 340.6 849 342.1 851 343.5C853 344.9 854.8 346.9 855 348.5C855.2 350.1 854.5 352.3 852 353.3C849.5 354.3 843.2 354.1 840 354.6C836.8 355.1 834.4 355.1 832.5 356.2C830.6 357.3 829.1 359.2 828.5 361C827.9 362.8 828.6 365.1 829 367C829.4 368.9 830.7 371.6 831 372.5" fill="none" stroke="#1e1e1e" stroke-width="7.4" stroke-linecap="butt" stroke-linejoin="round"/><path d="M843 340C844.3 340.6 849 342.1 851 343.5C853 344.9 854.8 346.9 855 348.5C855.2 350.1 854.5 352.3 852 353.3C849.5 354.3 843.2 354.1 840 354.6C836.8 355.1 834.4 355.1 832.5 356.2C830.6 357.3 829.1 359.2 828.5 361C827.9 362.8 828.6 365.1 829 367C829.4 368.9 830.7 371.6 831 372.5" fill="none" stroke="#fff" stroke-width="5.2" stroke-linecap="butt" stroke-linejoin="round"/><path d="M846.4 350.4L846.9 357.8" stroke="#1e1e1e" stroke-width="0.8"/><path d="M824.7 364.6L832 363.4" stroke="#1e1e1e" stroke-width="0.8"/><path d="M824 335.5C825.3 335.6 829.5 336.1 832 335.8C834.5 335.6 836.7 334.1 839 334C841.3 333.9 844 334.5 846 335.5C848 336.5 850 338.2 850.8 340C851.6 341.8 852 344.5 851 346C850 347.5 848 348.4 845 349.2C842 350 836.7 350.1 833 350.8C829.3 351.5 825.6 352 823 353.2C820.4 354.4 818.4 356 817.4 358C816.4 360 816.4 362.6 816.8 365C817.1 367.4 819 371.2 819.5 372.5" fill="none" stroke="#1e1e1e" stroke-width="7.8" stroke-linecap="butt" stroke-linejoin="round"/><path d="M824 335.5C825.3 335.6 829.5 336.1 832 335.8C834.5 335.6 836.7 334.1 839 334C841.3 333.9 844 334.5 846 335.5C848 336.5 850 338.2 850.8 340C851.6 341.8 852 344.5 851 346C850 347.5 848 348.4 845 349.2C842 350 836.7 350.1 833 350.8C829.3 351.5 825.6 352 823 353.2C820.4 354.4 818.4 356 817.4 358C816.4 360 816.4 362.6 816.8 365C817.1 367.4 819 371.2 819.5 372.5" fill="none" stroke="#fff" stroke-width="5.6" stroke-linecap="butt" stroke-linejoin="round"/><path d="M833.5 339.5L831.9 331.9" stroke="#1e1e1e" stroke-width="0.8"/><path d="M846.3 340.5L851.7 334.9" stroke="#1e1e1e" stroke-width="0.8"/><path d="M847.2 341.5L854.1 337.9" stroke="#1e1e1e" stroke-width="0.8"/><path d="M812.8 364.7L820.6 363.8" stroke="#1e1e1e" stroke-width="0.8"/><path d="M842.5 331.5L847 338.5" stroke="#1c1c1c" stroke-width="2.4"/><path d="M744 402C743.6 403.2 742.4 406.5 741.5 409C740.6 411.5 738.9 414.3 738.6 417C738.3 419.7 738.7 423 739.6 425C740.5 427 742.4 428.6 744 428.8C745.6 429 747.6 427.9 749 426.3C750.4 424.7 751.5 421.7 752.6 419C753.7 416.3 754.5 412.8 755.5 410C756.5 407.2 757.5 404.7 758.8 402C760 399.3 761.4 396.1 763 394C764.6 391.9 767.6 390.3 768.5 389.6" fill="none" stroke="#1e1e1e" stroke-width="10.6" stroke-linecap="butt" stroke-linejoin="round"/><path d="M766 391C766.8 390.6 769 389.4 771 388.6C773 387.8 774.7 386.5 778 386.3C781.3 386.1 786.7 387 791 387.3C795.3 387.6 799.5 388.7 804 388C808.5 387.3 813.3 385.1 818 383.2C822.7 381.3 827.3 378.6 832 376.6C836.7 374.6 842.5 372.2 846 371C849.5 369.8 851.8 369.8 853 369.6" fill="none" stroke="#1e1e1e" stroke-width="12.4" stroke-linecap="butt" stroke-linejoin="round"/><path d="M850 370.2C850.8 370.1 853.2 369.2 855 369.4C856.8 369.6 859.1 370.2 860.5 371.6C861.9 373 863.2 375.3 863.5 378C863.8 380.7 862.5 384.9 862.4 388C862.2 391.1 861.8 394 862.6 396.5C863.5 399 865.2 401.2 867.5 402.8C869.8 404.4 874.1 404.9 876.5 406.4C878.9 407.8 880.8 409.4 881.8 411.5C882.8 413.6 882.8 416.3 882.2 419C881.6 421.7 879.3 424.7 878 427.5C876.7 430.3 875.1 432.9 874.3 436C873.5 439.1 873.2 444.3 873 446" fill="none" stroke="#1e1e1e" stroke-width="10.4" stroke-linecap="butt" stroke-linejoin="round"/><path d="M744 402C743.6 403.2 742.4 406.5 741.5 409C740.6 411.5 738.9 414.3 738.6 417C738.3 419.7 738.7 423 739.6 425C740.5 427 742.4 428.6 744 428.8C745.6 429 747.6 427.9 749 426.3C750.4 424.7 751.5 421.7 752.6 419C753.7 416.3 754.5 412.8 755.5 410C756.5 407.2 757.5 404.7 758.8 402C760 399.3 761.4 396.1 763 394C764.6 391.9 767.6 390.3 768.5 389.6" fill="none" stroke="#fff" stroke-width="8.4" stroke-linecap="butt" stroke-linejoin="round"/><path d="M766 391C766.8 390.6 769 389.4 771 388.6C773 387.8 774.7 386.5 778 386.3C781.3 386.1 786.7 387 791 387.3C795.3 387.6 799.5 388.7 804 388C808.5 387.3 813.3 385.1 818 383.2C822.7 381.3 827.3 378.6 832 376.6C836.7 374.6 842.5 372.2 846 371C849.5 369.8 851.8 369.8 853 369.6" fill="none" stroke="#fff" stroke-width="10.2" stroke-linecap="butt" stroke-linejoin="round"/><path d="M850 370.2C850.8 370.1 853.2 369.2 855 369.4C856.8 369.6 859.1 370.2 860.5 371.6C861.9 373 863.2 375.3 863.5 378C863.8 380.7 862.5 384.9 862.4 388C862.2 391.1 861.8 394 862.6 396.5C863.5 399 865.2 401.2 867.5 402.8C869.8 404.4 874.1 404.9 876.5 406.4C878.9 407.8 880.8 409.4 881.8 411.5C882.8 413.6 882.8 416.3 882.2 419C881.6 421.7 879.3 424.7 878 427.5C876.7 430.3 875.1 432.9 874.3 436C873.5 439.1 873.2 444.3 873 446" fill="none" stroke="#fff" stroke-width="8.2" stroke-linecap="butt" stroke-linejoin="round"/><path d="M755.5 425.8L745.9 421.3" stroke="#1e1e1e" stroke-width="0.8"/><path d="M758.6 417.9L748.5 414.7" stroke="#1e1e1e" stroke-width="0.8"/><path d="M761.4 409.3L751.6 405.4" stroke="#1e1e1e" stroke-width="0.8"/><path d="M857.9 382.5L868.2 384.2" stroke="#1e1e1e" stroke-width="0.8"/><path d="M857.4 385.5L867.7 387" stroke="#1e1e1e" stroke-width="0.8"/><path d="M856.9 392L867.3 392.4" stroke="#1e1e1e" stroke-width="0.8"/><path d="M857 395.4L867.4 394" stroke="#1e1e1e" stroke-width="0.8"/><path d="M873.6 410.8L878.6 401.6" stroke="#1e1e1e" stroke-width="0.8"/><path d="M875.5 412L881.7 403.6" stroke="#1e1e1e" stroke-width="0.8"/><path d="M874 423.9L883.2 428.7" stroke="#1e1e1e" stroke-width="0.8"/><path d="M869.2 435L879.3 437.4" stroke="#1e1e1e" stroke-width="0.8"/><path d="M868.6 438.4L878.9 439.8" stroke="#1e1e1e" stroke-width="0.8"/><g transform="translate(814 384.8) rotate(-22)"><path d="M0 -7V7" stroke="#1c1c1c" stroke-width="4" stroke-linecap="round"/><rect x="-1.8" y="-9.5" width="3.6" height="3.4" rx="1" fill="#1c1c1c"/></g><g transform="translate(825.5 379.5) rotate(-24)"><path d="M0 -7V7" stroke="#1c1c1c" stroke-width="2.4" stroke-linecap="round"/><rect x="-1.8" y="-9.5" width="3.6" height="3.4" rx="1" fill="#1c1c1c"/></g><g transform="translate(840.5 373) rotate(-22)"><path d="M0 -6.8V6.8" stroke="#1c1c1c" stroke-width="2.8" stroke-linecap="round"/><rect x="-1.8" y="-9.2" width="3.6" height="3.4" rx="1" fill="#1c1c1c"/></g><g transform="translate(850.5 369.8) rotate(-14)"><path d="M0 -6.5V6.5" stroke="#1c1c1c" stroke-width="2.6" stroke-linecap="round"/><rect x="-1.8" y="-9" width="3.6" height="3.4" rx="1" fill="#1c1c1c"/></g><path d="M816 368.6L823.4 365.6M827.6 368L835 365.2" stroke="#1c1c1c" stroke-width="3"/><g transform="translate(873.4 447.5) rotate(96)"><rect x="-6" y="-6.6" width="12" height="13.2" rx="2" fill="#1c1c1c"/><path d="M-3 -5.4V5.4M0 -5.4V5.4M3 -5.4V5.4" stroke="#d8d8d8" stroke-width="0.9"/></g><g transform="translate(875 459.5) rotate(97)"><rect x="-7" y="-8" width="14" height="16" rx="5.9" fill="#181818"/><path d="M-2.8 -5Q0.6 0 -2.8 5" fill="none" stroke="#fff" stroke-width="0.85"/><path d="M-5.3 -4Q-2.4 0 -5.3 4" fill="none" stroke="#e4e4e4" stroke-width="0.8"/><path d="M-0.6 -1.8A3 5.3 0 0 1 4.6 3" fill="none" stroke="#f4f4f4" stroke-width="1.0"/><path d="M3.2 5A3 5.3 0 0 1 -0.3 2.6" fill="none" stroke="#cfcfcf" stroke-width="0.7"/><ellipse cx="2.4" cy="0" rx="1.3" ry="2.4" fill="#6e6e6e"/></g><g transform="translate(744.6 395.6)"><circle r="8.6" fill="#1c1c1c"/><path d="M-5.6 -2.5A6 6 0 0 1 2 -5.8" fill="none" stroke="#fff" stroke-width="1.1"/><path d="M-1.5 2.6A4 4.4 0 0 1 4.6 -2.2" fill="none" stroke="#ddd" stroke-width="0.9"/><path d="M2.2 5.8A6.5 6.5 0 0 0 6.4 0.5" fill="none" stroke="#fff" stroke-width="1"/><circle cx="2.4" cy="1.8" r="1.5" fill="#777"/></g><g transform="translate(742.4 408.6) rotate(17)"><rect x="-8" y="-3.4" width="16" height="6.8" rx="2" fill="#1c1c1c"/><path d="M-6 -0.2H6.4" stroke="#ddd" stroke-width="0.9"/><rect x="-13" y="-4.6" width="7" height="4.2" rx="1.2" fill="#1c1c1c"/></g><g transform="translate(772.5 388) rotate(-24)"><path d="M0 -6.7V6.7" stroke="#1c1c1c" stroke-width="1.8" stroke-linecap="round"/><rect x="-1.8" y="-9.2" width="3.6" height="3.4" rx="1" fill="#1c1c1c"/></g><g transform="translate(770.6 389.2) rotate(-28)"><path d="M0 -6.7V6.7" stroke="#1c1c1c" stroke-width="1" stroke-linecap="round"/><rect x="-1.8" y="-9.2" width="3.6" height="3.4" rx="1" fill="#1c1c1c"/></g><g transform="translate(743.8 362.6) rotate(12)"><ellipse cx="-3.6" cy="-0.8" rx="3.6" ry="2.3" fill="#1c1c1c"/><ellipse cx="2.6" cy="0.6" rx="4.2" ry="2.6" fill="#1c1c1c"/><path d="M5 1.5L7 4" stroke="#1c1c1c" stroke-width="1.6"/><path d="M-1 -0.6H2.4" stroke="#bbb" stroke-width="0.8"/></g><path d="M747.7 369L746.3 384" stroke="#444" stroke-width="0.9" stroke-dasharray="4 3.5"/><path d="M782 524.5L786.9 528.4 Q788.5 529.6 789.7 531.2L793.5 536" fill="none" stroke="#1e1e1e" stroke-width="6.8" stroke-linecap="butt" stroke-linejoin="round"/><path d="M795 523L789.5 529.6" fill="none" stroke="#1e1e1e" stroke-width="6.8" stroke-linecap="butt" stroke-linejoin="round"/><path d="M803 545.6L806.3 547.1 Q809 548.4 811.8 549.4L830.2 555.6 Q833 556.6 835.7 558L871.8 577 Q874.5 578.4 877 580.1L878.3 580.9 Q880.8 582.6 883.4 582.4L883.4 582.4 Q886 582.2 887.5 581.1L889 580" fill="none" stroke="#1e1e1e" stroke-width="6.3" stroke-linecap="butt" stroke-linejoin="round"/><path d="M782 524.5L786.9 528.4 Q788.5 529.6 789.7 531.2L793.5 536" fill="none" stroke="#fff" stroke-width="4.6" stroke-linecap="butt" stroke-linejoin="round"/><path d="M795 523L789.5 529.6" fill="none" stroke="#fff" stroke-width="4.6" stroke-linecap="butt" stroke-linejoin="round"/><path d="M803 545.6L806.3 547.1 Q809 548.4 811.8 549.4L830.2 555.6 Q833 556.6 835.7 558L871.8 577 Q874.5 578.4 877 580.1L878.3 580.9 Q880.8 582.6 883.4 582.4L883.4 582.4 Q886 582.2 887.5 581.1L889 580" fill="none" stroke="#fff" stroke-width="4.1" stroke-linecap="butt" stroke-linejoin="round"/><path d="M815.7 554L817.7 548.1" stroke="#1e1e1e" stroke-width="0.8"/><path d="M817.5 554.6L819.5 548.7" stroke="#1e1e1e" stroke-width="0.8"/><path d="M831.5 559.4L833.5 553.5" stroke="#1e1e1e" stroke-width="0.8"/><path d="M833.6 560.5L836.5 554.9" stroke="#1e1e1e" stroke-width="0.8"/><path d="M871.6 580.4L874.5 574.9" stroke="#1e1e1e" stroke-width="0.8"/><g transform="translate(806 547.4) rotate(22)"><rect x="-2.4" y="-4.6" width="4.8" height="9.2" rx="1" fill="#1c1c1c"/><path d="M0 -3.6V3.6" stroke="#999" stroke-width="0.7"/></g><g transform="translate(796.9 542.6) rotate(10)"><path d="M-6.3 -7V6A6.3 2.8 0 0 0 6.3 6V-7Z" fill="#fff" stroke="#1e1e1e" stroke-width="1"/><ellipse cx="0" cy="-7" rx="6.3" ry="2.8" fill="#fff" stroke="#1e1e1e" stroke-width="1.1"/><ellipse cx="0" cy="-6.8" rx="4.3" ry="1.6" fill="none" stroke="#666" stroke-width="0.7"/><path d="M-6.3 -2.6A6.3 2.6 0 0 0 6.3 -2.6" fill="none" stroke="#1e1e1e" stroke-width="0.9"/><path d="M-6.3 -0.6A6.3 2.6 0 0 0 6.3 -0.6" fill="none" stroke="#1e1e1e" stroke-width="0.7"/></g><g transform="translate(779 522.8) rotate(212)"><rect x="-6.2" y="-5.5" width="12.5" height="11" rx="4.6" fill="#181818"/><path d="M-2.5 -3.4Q-0.2 0 -2.5 3.4" fill="none" stroke="#fff" stroke-width="0.85"/><path d="M-4.8 -2.8Q-2.8 0 -4.8 2.8" fill="none" stroke="#e4e4e4" stroke-width="0.8"/><path d="M1 -1.2A2 3.6 0 0 1 4.5 2.1" fill="none" stroke="#f4f4f4" stroke-width="1.0"/><path d="M3.6 3.4A2 3.6 0 0 1 1.1 1.8" fill="none" stroke="#cfcfcf" stroke-width="0.7"/><ellipse cx="3.1" cy="0" rx="0.9" ry="1.6" fill="#6e6e6e"/></g><g transform="translate(796.6 521.2) rotate(-42)"><rect x="-6.2" y="-5.8" width="12.5" height="11.5" rx="4.8" fill="#181818"/><path d="M-2.5 -3.6Q-0.1 0 -2.5 3.6" fill="none" stroke="#fff" stroke-width="0.85"/><path d="M-4.8 -2.9Q-2.7 0 -4.8 2.9" fill="none" stroke="#e4e4e4" stroke-width="0.8"/><path d="M0.7 -1.3A2.1 3.8 0 0 1 4.5 2.2" fill="none" stroke="#f4f4f4" stroke-width="1.0"/><path d="M3.5 3.6A2.1 3.8 0 0 1 0.9 1.9" fill="none" stroke="#cfcfcf" stroke-width="0.7"/><ellipse cx="2.9" cy="0" rx="1" ry="1.7" fill="#6e6e6e"/></g><g transform="translate(893 577.2) rotate(-38)"><rect x="-6" y="-5.5" width="12" height="11" rx="4.6" fill="#181818"/><path d="M-2.4 -3.4Q-0.1 0 -2.4 3.4" fill="none" stroke="#fff" stroke-width="0.85"/><path d="M-4.6 -2.8Q-2.6 0 -4.6 2.8" fill="none" stroke="#e4e4e4" stroke-width="0.8"/><path d="M0.7 -1.2A2 3.6 0 0 1 4.3 2.1" fill="none" stroke="#f4f4f4" stroke-width="1.0"/><path d="M3.3 3.4A2 3.6 0 0 1 0.9 1.8" fill="none" stroke="#cfcfcf" stroke-width="0.7"/><ellipse cx="2.8" cy="0" rx="0.9" ry="1.6" fill="#6e6e6e"/></g><path d="M650 528C651.2 528.8 655.1 531 657 533C658.9 535 661 537.7 661.3 540C661.6 542.3 660.2 545.4 658.6 546.8C657 548.2 653.9 548.2 651.5 548.6C649.1 549 646.6 548.2 644.5 549C642.4 549.8 640 551.5 638.8 553.5C637.5 555.5 636.6 558.1 637 561C637.4 563.9 636 563.4 641 571C646 578.6 661.7 599.5 667 606.5C672.3 613.5 670.8 611.7 673 613.2C675.2 614.8 677.2 615.9 680 615.8C682.8 615.7 684.2 615 690 612.4C695.8 609.8 708.2 603.2 715 600C721.8 596.8 728.3 594.2 731 593" fill="none" stroke="#1e1e1e" stroke-width="11.6" stroke-linecap="butt" stroke-linejoin="round"/><path d="M745 598C747 599.5 753.7 604.4 757 607C760.3 609.6 762.3 611.7 765 613.4C767.7 615.1 768.8 616.5 773 617.2C777.2 617.9 785 617.4 790 617.4C795 617.4 795.8 617.1 803 617C810.2 616.9 826.3 616.5 833 617C839.7 617.5 840 618.6 843 620C846 621.4 849.7 624.6 851 625.5" fill="none" stroke="#1e1e1e" stroke-width="11.6" stroke-linecap="butt" stroke-linejoin="round"/><path d="M846 621C847.2 621.3 850.9 621.8 853.4 623C855.9 624.2 858.2 626.2 861 628.4C863.8 630.6 866.5 633.6 870 636.2C873.5 638.8 879.1 642.1 882.3 644C885.5 645.9 887.9 646.8 889 647.4" fill="none" stroke="#1e1e1e" stroke-width="10.8" stroke-linecap="butt" stroke-linejoin="round"/><path d="M846 622.5C847.2 623.4 850.9 625.8 853 628C855.1 630.2 856.6 632.8 858.5 635.5C860.4 638.2 862 640.9 864.5 644C867 647.1 871 651.6 873.4 654C875.8 656.4 878.1 657.7 879 658.4" fill="none" stroke="#1e1e1e" stroke-width="10.8" stroke-linecap="butt" stroke-linejoin="round"/><path d="M650 528C651.2 528.8 655.1 531 657 533C658.9 535 661 537.7 661.3 540C661.6 542.3 660.2 545.4 658.6 546.8C657 548.2 653.9 548.2 651.5 548.6C649.1 549 646.6 548.2 644.5 549C642.4 549.8 640 551.5 638.8 553.5C637.5 555.5 636.6 558.1 637 561C637.4 563.9 636 563.4 641 571C646 578.6 661.7 599.5 667 606.5C672.3 613.5 670.8 611.7 673 613.2C675.2 614.8 677.2 615.9 680 615.8C682.8 615.7 684.2 615 690 612.4C695.8 609.8 708.2 603.2 715 600C721.8 596.8 728.3 594.2 731 593" fill="none" stroke="#fff" stroke-width="9.4" stroke-linecap="butt" stroke-linejoin="round"/><path d="M745 598C747 599.5 753.7 604.4 757 607C760.3 609.6 762.3 611.7 765 613.4C767.7 615.1 768.8 616.5 773 617.2C777.2 617.9 785 617.4 790 617.4C795 617.4 795.8 617.1 803 617C810.2 616.9 826.3 616.5 833 617C839.7 617.5 840 618.6 843 620C846 621.4 849.7 624.6 851 625.5" fill="none" stroke="#fff" stroke-width="9.4" stroke-linecap="butt" stroke-linejoin="round"/><path d="M846 621C847.2 621.3 850.9 621.8 853.4 623C855.9 624.2 858.2 626.2 861 628.4C863.8 630.6 866.5 633.6 870 636.2C873.5 638.8 879.1 642.1 882.3 644C885.5 645.9 887.9 646.8 889 647.4" fill="none" stroke="#fff" stroke-width="8.6" stroke-linecap="butt" stroke-linejoin="round"/><path d="M846 622.5C847.2 623.4 850.9 625.8 853 628C855.1 630.2 856.6 632.8 858.5 635.5C860.4 638.2 862 640.9 864.5 644C867 647.1 871 651.6 873.4 654C875.8 656.4 878.1 657.7 879 658.4" fill="none" stroke="#fff" stroke-width="8.6" stroke-linecap="butt" stroke-linejoin="round"/><path d="M649.1 542.9L648.6 554.5" stroke="#1e1e1e" stroke-width="0.8"/><path d="M633.1 569.2L643.4 563.9" stroke="#1e1e1e" stroke-width="0.8"/><path d="M634.7 572L644.6 565.9" stroke="#1e1e1e" stroke-width="0.8"/><path d="M690.6 618.5L685.9 607.9" stroke="#1e1e1e" stroke-width="0.8"/><path d="M741.5 602.6L748.5 593.4" stroke="#1e1e1e" stroke-width="0.8"/><path d="M773.8 623.1L774.8 611.6" stroke="#1e1e1e" stroke-width="0.8"/><path d="M788.1 623.2L787.9 611.6" stroke="#1e1e1e" stroke-width="0.8"/><path d="M793.4 623.1L792.9 611.5" stroke="#1e1e1e" stroke-width="0.8"/><path d="M798.5 622.9L798.1 611.3" stroke="#1e1e1e" stroke-width="0.8"/><path d="M805.3 622.8L805.1 611.2" stroke="#1e1e1e" stroke-width="0.8"/><path d="M825.8 622.6L825.8 611" stroke="#1e1e1e" stroke-width="0.8"/><path d="M838.7 624.3L844.3 614.1" stroke="#1e1e1e" stroke-width="0.8"/><path d="M854.4 630.1L860.9 621.4" stroke="#1e1e1e" stroke-width="0.8"/><path d="M855.9 631.2L862.6 622.8" stroke="#1e1e1e" stroke-width="0.8"/><path d="M876.3 646.7L881.9 637.5" stroke="#1e1e1e" stroke-width="0.8"/><path d="M861.5 648.9L869.8 642" stroke="#1e1e1e" stroke-width="0.8"/><path d="M862.8 650.4L871 643.4" stroke="#1e1e1e" stroke-width="0.8"/><path d="M729 587.5Q737 586 744 592.5" fill="none" stroke="#1e1e1e" stroke-width="1"/><path d="M628.5 524.5C629 523.6 630.2 520.2 631.5 519.2C632.8 518.2 634.2 518.1 636 518.6C637.8 519.1 639.7 520.7 642 522.2C644.3 523.7 647.6 525.8 650 527.4C652.4 529 655.4 531.2 656.5 532" fill="none" stroke="#1e1e1e" stroke-width="10.8" stroke-linecap="butt" stroke-linejoin="round"/><path d="M628.5 524.5C629 523.6 630.2 520.2 631.5 519.2C632.8 518.2 634.2 518.1 636 518.6C637.8 519.1 639.7 520.7 642 522.2C644.3 523.7 647.6 525.8 650 527.4C652.4 529 655.4 531.2 656.5 532" fill="none" stroke="#fff" stroke-width="8.6" stroke-linecap="butt" stroke-linejoin="round"/><path d="M636.4 525L642.5 516.1" stroke="#1e1e1e" stroke-width="3.2"/><path d="M635.1 524.1L640.4 514.7" stroke="#1e1e1e" stroke-width="0.8"/><path d="M646 531.2L652 522.2" stroke="#1e1e1e" stroke-width="1.6"/><path d="M647.7 532.3L653.8 523.5" stroke="#1e1e1e" stroke-width="1.6"/><path d="M649.4 533.5L655.6 524.7" stroke="#1e1e1e" stroke-width="1.6"/><path d="M651.1 534.7L657.3 526" stroke="#1e1e1e" stroke-width="1.2"/><g transform="translate(626.3 526.6) rotate(30)"><rect x="-7.5" y="-7.8" width="15" height="15.5" rx="2" fill="#1c1c1c"/><rect x="-3.3" y="-3.1" width="5.4" height="6.5" rx="0.8" fill="#fff"/><path d="M4.5 -6.2V6.2" stroke="#bbb" stroke-width="0.7"/></g><path d="M647.5 537.5L654.5 536.5L655.5 540.5L650 541.5Z" fill="#1c1c1c" stroke="#1c1c1c" stroke-width="1.2" stroke-linejoin="round"/><g transform="translate(692.6 611.4) rotate(-26)"><path d="M0 -6.8V6.8" stroke="#1c1c1c" stroke-width="2" stroke-linecap="round"/><rect x="-1.8" y="-9.2" width="3.6" height="3.4" rx="1" fill="#1c1c1c"/></g><ellipse cx="693.6" cy="605.6" rx="3.6" ry="3" fill="#1c1c1c"/><path d="M697.6 608.8L714.2 600.8" stroke="#1e1e1e" stroke-width="0.8"/><path d="M716 599.3C717.3 598.7 722.7 596.4 724 595.8" fill="none" stroke="#1c1c1c" stroke-width="11.6"/><path d="M716 599.3C717.3 598.7 722.7 596.4 724 595.8" fill="none" stroke="#e8e8e8" stroke-width="9.2" stroke-dasharray="1.1 1.7"/><path d="M697 606.5L713 598.5" stroke="#1e1e1e" stroke-width="0.8"/><g transform="translate(731.5 592.4) rotate(-25)"><rect x="-4.5" y="-5.8" width="9" height="11.5" rx="3.8" fill="#181818"/><path d="M-1.8 -3.6Q0.6 0 -1.8 3.6" fill="none" stroke="#fff" stroke-width="0.85"/></g><g transform="translate(776 615.5) rotate(8)"><path d="M0 -6.8V6.8" stroke="#1c1c1c" stroke-width="2.4" stroke-linecap="round"/><rect x="-1.8" y="-9.2" width="3.6" height="3.4" rx="1" fill="#1c1c1c"/></g><rect x="773" y="607.5" width="5.4" height="3.6" rx="1" fill="#1c1c1c"/><g transform="translate(836.5 618.4) rotate(14)"><path d="M0 -6.8V6.8" stroke="#1c1c1c" stroke-width="5" stroke-linecap="round"/><rect x="-1.8" y="-9.2" width="3.6" height="3.4" rx="1" fill="#1c1c1c"/></g><path d="M836.4 613V624" stroke="#aaa" stroke-width="0.7" transform="rotate(14 836.5 618.4)"/><path d="M886.5 646.4C887.9 647.1 893.6 649.7 895 650.4" fill="none" stroke="#1c1c1c" stroke-width="11.6"/><path d="M886.5 646.4C887.9 647.1 893.6 649.7 895 650.4" fill="none" stroke="#e8e8e8" stroke-width="9.2" stroke-dasharray="1.4 1.5"/><g transform="translate(900.6 652.8) rotate(25)"><rect x="-5.8" y="-6.5" width="11.5" height="13" rx="4.8" fill="#181818"/><path d="M-2.3 -4Q0.4 0 -2.3 4" fill="none" stroke="#fff" stroke-width="0.85"/><path d="M-0.4 -1.5A2.4 4.3 0 0 1 3.8 2.5" fill="none" stroke="#f4f4f4" stroke-width="1.0"/><path d="M2.6 4A2.4 4.3 0 0 1 -0.3 2.1" fill="none" stroke="#cfcfcf" stroke-width="0.7"/><ellipse cx="2" cy="0" rx="1.1" ry="1.9" fill="#6e6e6e"/></g><path d="M871.6 652.2C872.9 653.3 878.1 657.7 879.4 658.8" fill="none" stroke="#1c1c1c" stroke-width="11.6"/><path d="M871.6 652.2C872.9 653.3 878.1 657.7 879.4 658.8" fill="none" stroke="#e8e8e8" stroke-width="9.2" stroke-dasharray="1.4 1.5"/><g transform="translate(884.6 662.8) rotate(36)"><rect x="-5.8" y="-6.5" width="11.5" height="13" rx="4.8" fill="#181818"/><path d="M-2.3 -4Q0.4 0 -2.3 4" fill="none" stroke="#fff" stroke-width="0.85"/><path d="M-0.4 -1.5A2.4 4.3 0 0 1 3.8 2.5" fill="none" stroke="#f4f4f4" stroke-width="1.0"/><path d="M2.6 4A2.4 4.3 0 0 1 -0.3 2.1" fill="none" stroke="#cfcfcf" stroke-width="0.7"/><ellipse cx="2" cy="0" rx="1.1" ry="1.9" fill="#6e6e6e"/></g><path d="M863.5 634L869.5 643" stroke="#1e1e1e" stroke-width="0.8"/><path d="M349.3 122L349.3 179" stroke="#444" stroke-width="1"/><circle cx="349.4" cy="112.8" r="9.1" fill="#fff" stroke="#3c3c3c" stroke-width="0.95"/><text x="346" y="118" font-size="13.5">9</text><path d="M375.8 216L375.8 267.5" stroke="#6a6a6a" stroke-width="1"/><circle cx="375.8" cy="276.4" r="9.1" fill="#fff" stroke="#3c3c3c" stroke-width="0.95"/><text x="372" y="281" font-size="13.5">8</text><path d="M542.4 252.5L542.4 293" stroke="#2e2e2e" stroke-width="0.9"/><circle cx="542.4" cy="243.4" r="9.1" fill="#fff" stroke="#3c3c3c" stroke-width="0.95"/><text x="539" y="248" font-size="13.5">5</text><path d="M481 265.5L481 298" stroke="#b4b4b4" stroke-width="1.1"/><circle cx="480.8" cy="256.2" r="9.1" fill="#fff" stroke="#3c3c3c" stroke-width="0.95"/><text x="477" y="261" font-size="13.5">6</text><path d="M807.8 265L807.8 320.5" stroke="#b4b4b4" stroke-width="1.2"/><circle cx="808.2" cy="256" r="9.1" fill="#fff" stroke="#3c3c3c" stroke-width="0.95"/><text x="800 808" y="261" font-size="13.5">10</text><path d="M800.8 259.5h2.2v1.8h-2.2zM805 259.5h2.2v1.8h-2.2z" fill="#fff"/><path d="M741.3 334L741.3 357" stroke="#444" stroke-width="1"/><circle cx="741.3" cy="325.2" r="9.1" fill="#fff" stroke="#3c3c3c" stroke-width="0.95"/><text x="738" y="330" font-size="13.5">6</text><path d="M667.5 362L667.5 430" stroke="#8a8a8a" stroke-width="1"/><circle cx="667.2" cy="352.4" r="9.1" fill="#fff" stroke="#3c3c3c" stroke-width="0.95"/><text x="663" y="357" font-size="13.5">1</text><path d="M663.8 355.5h2.2v1.8h-2.2zM668 355.5h2.2v1.8h-2.2z" fill="#fff"/><path d="M840.2 512L840.2 555.5" stroke="#2e2e2e" stroke-width="1"/><circle cx="840.2" cy="502.6" r="9.1" fill="#fff" stroke="#3c3c3c" stroke-width="0.95"/><text x="836" y="507" font-size="13.5">2</text><path d="M746.9 609.4L746.9 673" stroke="#6a6a6a" stroke-width="1.1"/><circle cx="746.9" cy="682.3" r="9.1" fill="#fff" stroke="#3c3c3c" stroke-width="0.95"/><text x="743" y="687" font-size="13.5">3</text><path d="M582.4 487L582.4 559" stroke="#2e2e2e" stroke-width="1"/><circle cx="582.9" cy="568.3" r="9.1" fill="#fff" stroke="#3c3c3c" stroke-width="0.95"/><text x="579" y="573" font-size="13.5">4</text><path d="M326.5 411L326.5 481" stroke="#222" stroke-width="1.2"/><circle cx="326.4" cy="490" r="9.1" fill="#fff" stroke="#3c3c3c" stroke-width="0.95"/><text x="323" y="495" font-size="13.5">7</text><path d="M499.8 624L499.8 694" stroke="#a8a8a8" stroke-width="1.2"/><circle cx="500.4" cy="703.5" r="9.1" fill="#fff" stroke="#3c3c3c" stroke-width="0.95"/><text x="493 501" y="708" font-size="13.5">12</text><path d="M493.8 706.5h2.2v1.8h-2.2zM498.1 706.5h2.2v1.8h-2.2z" fill="#fff"/><path d="M283.2 628L283.2 646" stroke="#b4b4b4" stroke-width="1.3"/><circle cx="283.4" cy="618.3" r="9.1" fill="#fff" stroke="#3c3c3c" stroke-width="0.95"/><text x="276 284" y="623" font-size="13.5">14</text><path d="M276.8 621.5h2.2v1.8h-2.2zM281.1 621.5h2.2v1.8h-2.2z" fill="#fff"/><path d="M283.2 687L283.2 717" stroke="#b4b4b4" stroke-width="1.3"/><circle cx="283.4" cy="726.3" r="9.1" fill="#fff" stroke="#3c3c3c" stroke-width="0.95"/><text x="276 284" y="731" font-size="13.5">13</text><path d="M276.8 729.5h2.2v1.8h-2.2zM281.1 729.5h2.2v1.8h-2.2z" fill="#fff"/><path d="M409.3 468L412.6 451" stroke="#444" stroke-width="0.8"/><path d="M414.2 471.3L430.4 462.8" stroke="#444" stroke-width="0.8"/><circle cx="407.2" cy="476.6" r="9.1" fill="#fff" stroke="#3c3c3c" stroke-width="0.95"/><text x="399 407" y="481" font-size="13.5">11</text><path d="M399.8 479.5h2.2v1.8h-2.2zM404.1 479.5h2.2v1.8h-2.2z" fill="#fff"/><path d="M407.8 479.5h2.2v1.8h-2.2zM412.1 479.5h2.2v1.8h-2.2z" fill="#fff"/><g transform="translate(413.3 446.8) scale(1)"><ellipse cx="0" cy="1.6" rx="3.3" ry="1.8" fill="#1c1c1c"/><path d="M-1.6 0.9H1.6" stroke="#d0d0d0" stroke-width="0.7"/><rect x="-1.7" y="-4.2" width="3.4" height="4.8" rx="1" fill="#1c1c1c"/><path d="M-0.3 -3.3V-0.6" stroke="#e0e0e0" stroke-width="0.9"/><rect x="-0.9" y="3" width="1.8" height="1.5" fill="#1c1c1c"/></g><g transform="translate(432.5 460.7) scale(1)"><ellipse cx="0" cy="1.6" rx="3.3" ry="1.8" fill="#1c1c1c"/><path d="M-1.6 0.9H1.6" stroke="#d0d0d0" stroke-width="0.7"/><rect x="-1.7" y="-4.2" width="3.4" height="4.8" rx="1" fill="#1c1c1c"/><path d="M-0.3 -3.3V-0.6" stroke="#e0e0e0" stroke-width="0.9"/><rect x="-0.9" y="3" width="1.8" height="1.5" fill="#1c1c1c"/></g><path d="M516.8 538.5L516.8 525" stroke="#444" stroke-width="0.8"/><path d="M524.6 543L534.5 537.4" stroke="#444" stroke-width="0.8"/><circle cx="516.8" cy="547.5" r="9.1" fill="#fff" stroke="#3c3c3c" stroke-width="0.95"/><text x="509 517" y="552" font-size="13.5">11</text><path d="M509.8 550.5h2.2v1.8h-2.2zM514 550.5h2.2v1.8h-2.2z" fill="#fff"/><path d="M517.8 550.5h2.2v1.8h-2.2zM522 550.5h2.2v1.8h-2.2z" fill="#fff"/><g transform="translate(517 520.2) scale(1)"><ellipse cx="0" cy="1.6" rx="3.3" ry="1.8" fill="#1c1c1c"/><path d="M-1.6 0.9H1.6" stroke="#d0d0d0" stroke-width="0.7"/><rect x="-1.7" y="-4.2" width="3.4" height="4.8" rx="1" fill="#1c1c1c"/><path d="M-0.3 -3.3V-0.6" stroke="#e0e0e0" stroke-width="0.9"/><rect x="-0.9" y="3" width="1.8" height="1.5" fill="#1c1c1c"/></g><g transform="translate(536.7 535.3) scale(1)"><ellipse cx="0" cy="1.6" rx="3.3" ry="1.8" fill="#1c1c1c"/><path d="M-1.6 0.9H1.6" stroke="#d0d0d0" stroke-width="0.7"/><rect x="-1.7" y="-4.2" width="3.4" height="4.8" rx="1" fill="#1c1c1c"/><path d="M-0.3 -3.3V-0.6" stroke="#e0e0e0" stroke-width="0.9"/><rect x="-0.9" y="3" width="1.8" height="1.5" fill="#1c1c1c"/></g><path d="M988 339L1000.3 317.5" stroke="#444" stroke-width="0.8"/><path d="M992 342.7L1015.9 330.7" stroke="#444" stroke-width="0.8"/><circle cx="983.4" cy="347.2" r="9.1" fill="#fff" stroke="#3c3c3c" stroke-width="0.95"/><text x="976 984" y="352" font-size="13.5">15</text><path d="M976.8 350.5h2.2v1.8h-2.2zM981 350.5h2.2v1.8h-2.2z" fill="#fff"/><ellipse cx="1003.1" cy="315.6" rx="3.1" ry="2.5" fill="#1c1c1c"/><ellipse cx="1018.6" cy="329.4" rx="3.1" ry="2.5" fill="#1c1c1c"/><circle cx="389.9" cy="583.6" r="4" fill="none" stroke="#444" stroke-width="1.15"/><circle cx="277.2" cy="746" r="3" fill="none" stroke="#888" stroke-width="0.9"/></svg></body></html>
